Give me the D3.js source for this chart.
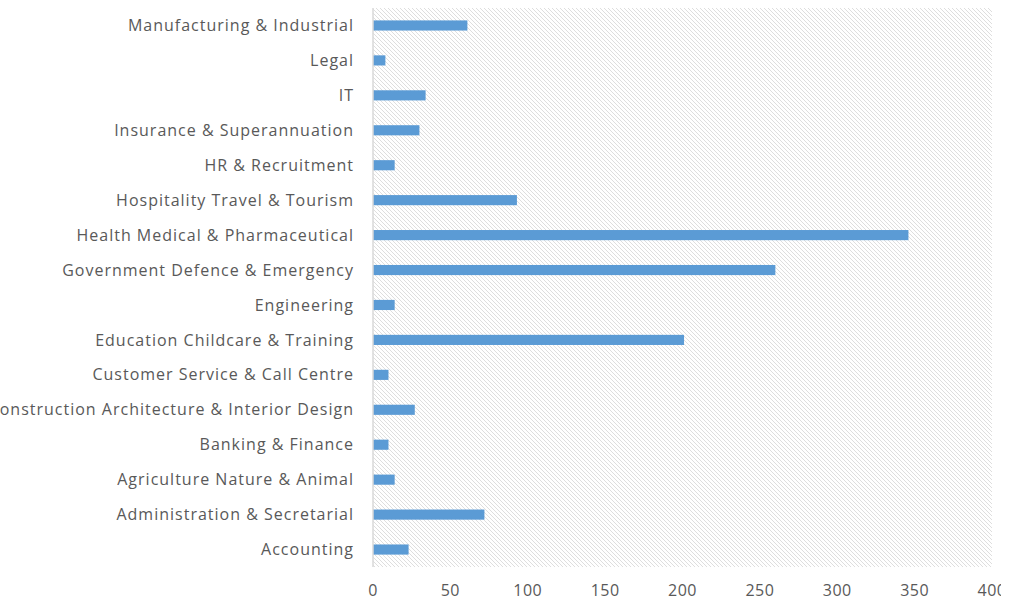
<!DOCTYPE html>
<html>
<head>
<meta charset="utf-8">
<script src="https://cdn.jsdelivr.net/npm/d3@7"></script>
<style>
  body { margin: 0; background: #fff; }
  text { font-family: "Open Sans", sans-serif; fill: #595959; }
</style>
</head>
<body>
<div id="chart"></div>
<script>
// categories listed bottom to top like the source sheet
const categories = [
    "Accounting",
    "Administration & Secretarial",
    "Agriculture Nature & Animal",
    "Banking & Finance",
    "Construction Architecture & Interior Design",
    "Customer Service & Call Centre",
    "Education Childcare & Training",
    "Engineering",
    "Government Defence & Emergency",
    "Health Medical & Pharmaceutical",
    "Hospitality Travel & Tourism",
    "HR & Recruitment",
    "Insurance & Superannuation",
    "IT",
    "Legal",
    "Manufacturing & Industrial"
];
const counts = [23, 72, 14, 10, 27, 10, 201, 14, 260, 346, 93, 14, 30, 34, 8, 61];
const xTicks = [0, 50, 100, 150, 200, 250, 300, 350, 400];

const width = 1013, height = 603;
const margin = { top: 8, right: 21, bottom: 36, left: 373 };

const svg = d3.select("#chart")
    .append("svg")
    .attr("width", width)
    .attr("height", height);

const defs = svg.append("defs");

// light downward diagonal fill of the plot area
const pattern = defs.append("pattern")
    .attr("id", "hatch")
    .attr("patternUnits", "userSpaceOnUse")
    .attr("width", 4)
    .attr("height", 4);
pattern.append("path")
    .attr("d", "M-1,-1 L5,5 M-1,3 L1,5 M3,-1 L5,1")
    .attr("stroke", "#dedede")
    .attr("stroke-width", 1);

// the chart area cuts the last tick label
defs.append("clipPath")
    .attr("id", "chart-area")
    .append("rect")
    .attr("x", 0).attr("y", 0)
    .attr("width", 1001).attr("height", height);

const x = d3.scaleLinear()
    .domain([0, 400])
    .range([margin.left, width - margin.right]);

const y = d3.scaleBand()
    .domain(categories.slice().reverse())
    .range([margin.top, height - margin.bottom])
    .paddingInner(0.71)
    .paddingOuter(0.355);

svg.append("rect")
    .attr("x", margin.left)
    .attr("y", margin.top)
    .attr("width", width - margin.right - margin.left)
    .attr("height", height - margin.bottom - margin.top)
    .attr("fill", "url(#hatch)");

svg.selectAll(".bar")
    .data(categories)
    .join("rect")
    .attr("class", "bar")
    .attr("x", x(0))
    .attr("y", d => y(d))
    .attr("width", (d, i) => x(counts[i]) - x(0))
    .attr("height", y.bandwidth())
    .attr("fill", "#5b9bd5");

// vertical category axis line
svg.append("line")
    .attr("x1", margin.left)
    .attr("x2", margin.left)
    .attr("y1", margin.top)
    .attr("y2", height - margin.bottom)
    .attr("stroke", "#d9d9d9")
    .attr("stroke-width", 1.5);

svg.selectAll(".cat")
    .data(categories)
    .join("text")
    .attr("class", "cat")
    .attr("x", margin.left - 19)
    .attr("y", d => y(d) + y.bandwidth() / 2)
    .attr("dy", "0.35em")
    .attr("text-anchor", "end")
    .style("font-size", "16px")
    .style("letter-spacing", "1px")
    .text(d => d);

svg.append("g")
    .attr("clip-path", "url(#chart-area)")
    .selectAll(".tick-label")
    .data(xTicks)
    .join("text")
    .attr("class", "tick-label")
    .attr("x", d => x(d))
    .attr("y", 590)
    .attr("dy", "0.35em")
    .attr("text-anchor", "middle")
    .style("font-size", "16px")
    .style("letter-spacing", "0.5px")
    .text(d => d);
</script>
</body>
</html>
